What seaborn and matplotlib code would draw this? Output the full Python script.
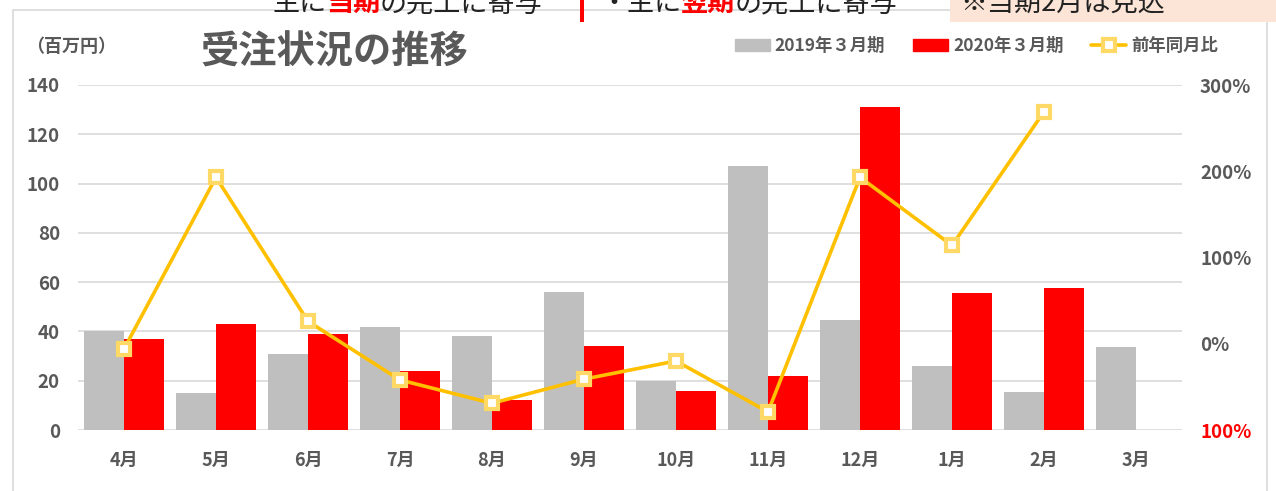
## Recreate the 受注状況の推移 chart: bars for 2019/2020 orders, line for year-on-year ratio.
import numpy as np
import pandas as pd
import matplotlib.pyplot as plt
import seaborn as sns
from matplotlib.patches import Rectangle, Patch
from matplotlib.lines import Line2D

months = ['4月', '5月', '6月', '7月', '8月', '9月', '10月', '11月', '12月', '1月', '2月', '3月']
orders_2019 = [40, 15, 31, 42, 38, 56, 20, 107, 44.5, 26, 15.5, 33.5]
orders_2020 = [37, 43, 39, 24, 12, 34, 16, 22, 131, 55.5, 57.5, np.nan]
yoy_pct = [-6, 193, 26, -42, -69, -41, -20, -79, 193, 114, 269, np.nan]
series_labels = ['2019年３月期', '2020年３月期']
line_label = '前年同月比'
left_ticks = [0, 20, 40, 60, 80, 100, 120, 140]
right_ticks = [-100, 0, 100, 200, 300]
right_tick_labels = ['100%', '0%', '100%', '200%', '300%']

color_dict = {'2019': '#BFBFBF', '2020': '#FF0000', 'line': '#FFC000', 'marker': '#FFD966'}
text_gray = '#595959'
W, H = 1276, 491

sns.set_theme(style='white')
plt.rcParams['font.family'] = ['Noto Sans CJK JP', 'DejaVu Sans']

# Long table for seaborn.
df = pd.DataFrame({'month': months * 2,
                   'value': orders_2019 + orders_2020,
                   'series': [series_labels[0]] * 12 + [series_labels[1]] * 12}).dropna()
df_line = pd.DataFrame({'month': months, 'yoy': yoy_pct}).dropna()

fig = plt.figure(figsize=(W / 100, H / 100), dpi=100)
ax = fig.add_axes([78 / W, 1 - 430 / H, (1182 - 78) / W, (430 - 85) / H])

sns.barplot(data=df, x='month', y='value', hue='series', order=months, hue_order=series_labels,
            palette=[color_dict['2019'], color_dict['2020']], width=0.87, errorbar=None,
            saturation=1, legend=False, linewidth=0, ax=ax)
ax.set_ylim(0, 140)
ax.set_xlim(-0.5, 11.5)
ax.set_yticks(left_ticks)
ax.grid(axis='y', color='#D9D9D9', linewidth=1.2)
ax.set_axisbelow(True)
ax.set_xlabel('')
ax.set_ylabel('')
ax.tick_params(axis='y', length=0, pad=13, labelsize=13.5, labelcolor=text_gray)
ax.tick_params(axis='x', length=0, pad=15, labelsize=13, labelcolor=text_gray)
for lbl in ax.get_xticklabels() + ax.get_yticklabels():
    lbl.set_fontweight('bold')
sns.despine(ax=ax, left=True, bottom=True)

# Year-on-year line on a second axis.
ax2 = ax.twinx()
sns.pointplot(data=df_line, x='month', y='yoy', order=months, errorbar=None, color=color_dict['line'],
              markers='s', ax=ax2)
for ln in ax2.lines:
    ln.set_linewidth(2.6)
    ln.set_markersize(9)
    ln.set_markerfacecolor('white')
    ln.set_markeredgecolor(color_dict['marker'])
    ln.set_markeredgewidth(3)
ax2.set_ylim(-100, 300)
ax2.set_xlim(-0.5, 11.5)
ax2.set_yticks(right_ticks, right_tick_labels)
ax2.set_ylabel('')
ax2.set_xlabel('')
ax2.grid(False)
ax2.tick_params(axis='y', length=0, pad=13, labelsize=13.5, labelcolor=text_gray)
for lbl in ax2.get_yticklabels():
    lbl.set_fontweight('bold')
ax2.get_yticklabels()[0].set_color('#FF0000')
for s in ax2.spines.values():
    s.set_visible(False)

# Titles.
fig.text(200 / W, 1 - 52 / H, '受注状況の推移', fontsize=27.5, fontweight='bold', color=text_gray, va='center')
fig.text(26 / W, 1 - 46 / H, '（百万円）', fontsize=13, fontweight='bold', color=text_gray, va='center')

# Legend.
handles = [Patch(color=color_dict['2019']), Patch(color=color_dict['2020']),
           Line2D([], [], color=color_dict['line'], lw=2.6, marker='s', markersize=9,
                  markerfacecolor='white', markeredgecolor=color_dict['marker'], markeredgewidth=3)]
leg = fig.legend(handles, series_labels + [line_label], loc='center left', bbox_to_anchor=(728 / W, 1 - 46 / H),
                 ncol=3, frameon=False, fontsize=12.5, handlelength=2.0, handleheight=0.75, handletextpad=0.3,
                 columnspacing=1.6, borderaxespad=0)
for t in leg.get_texts():
    t.set_color(text_gray)
    t.set_fontweight('bold')

# Chart frame and the slide bits above it.
fig.add_artist(Rectangle((13 / W, -0.1), (1267 - 13) / W, 1.1 - 10 / H, transform=fig.transFigure,
                         fill=False, edgecolor='#D9D9D9', lw=1.2))
fig.add_artist(Rectangle((950 / W, 1 - 22 / H), (W - 950) / W, 22 / H + 0.01, transform=fig.transFigure,
                         facecolor='#FCE4D6', edgecolor='none'))
fig.add_artist(Rectangle((580 / W, 1 - 22 / H), 4 / W, 22 / H + 0.01, transform=fig.transFigure,
                         facecolor='#FF0000', edgecolor='none'))
top_y = 1 - 11 / H
for x, txt, col, wt in [(272, '主に', '#222222', 'normal'), (326, '当期', '#FF0000', 'bold'),
                        (380, 'の完工に寄与', '#222222', 'normal'),
                        (600, '・主に', '#222222', 'normal'), (681, '翌期', '#FF0000', 'bold'),
                        (735, 'の完工に寄与', '#222222', 'normal'),
                        (960, '※当期2月は見込', '#222222', 'normal')]:
    fig.text(x / W, top_y, txt, fontsize=19.5, color=col, fontweight=wt, va='baseline')

plt.savefig('out.png', dpi=100)
